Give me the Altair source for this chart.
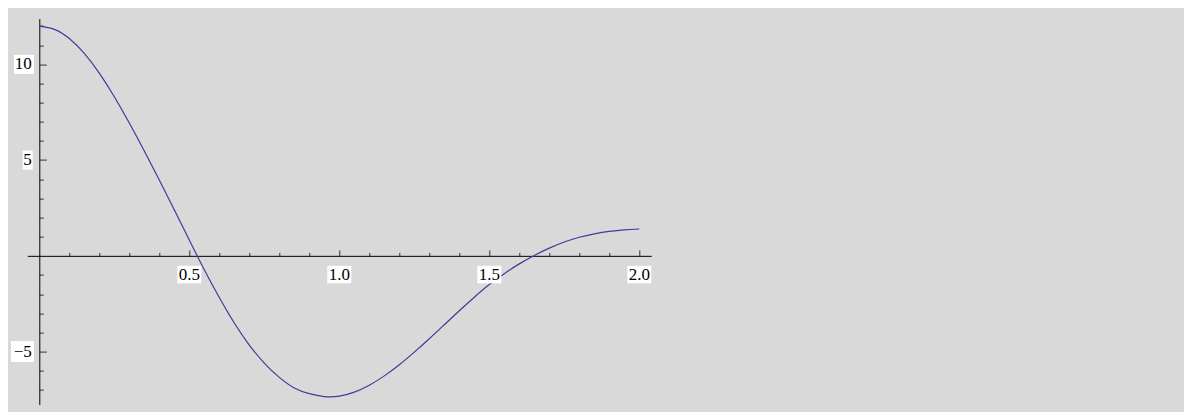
import altair as alt
import pandas as pd

# curve samples
xs = [0.00, 0.05, 0.10, 0.15, 0.20, 0.25, 0.30, 0.35, 0.40, 0.45,
      0.50, 0.55, 0.60, 0.65, 0.70, 0.75, 0.80, 0.85, 0.90, 0.95,
      1.00, 1.05, 1.10, 1.15, 1.20, 1.25, 1.30, 1.35, 1.40, 1.45,
      1.50, 1.55, 1.60, 1.65, 1.70, 1.75, 1.80, 1.85, 1.90, 1.95, 2.00]
ys = [12.00, 11.83, 11.35, 10.57, 9.54, 8.31, 6.94, 5.48, 3.96, 2.40,
      0.83, -0.73, -2.18, -3.51, -4.66, -5.60, -6.35, -6.90, -7.20, -7.35,
      -7.33, -7.12, -6.76, -6.27, -5.69, -5.03, -4.33, -3.60, -2.87, -2.16,
      -1.50, -0.93, -0.42, 0.02, 0.40, 0.72, 0.97, 1.15, 1.28, 1.36, 1.40]

x_tick_values = [0.5, 1.0, 1.5, 2.0]
x_tick_labels = ["0.5", "1.0", "1.5", "2.0"]
y_tick_values = [10, 5, -5]
y_tick_labels = ["10", "5", "\u22125"]

x_minor = [round(0.1 * i, 1) for i in range(1, 21)]
y_minor = [v for v in range(-7, 13) if v != 0]

XMIN, XMAX = -0.04, 2.04
YMIN, YMAX = -7.77, 12.39

W, H = 624, 386
PAD_L, PAD_T = 19.3, 10.6
TOTAL_W, TOTAL_H = 1176, 404

df = pd.DataFrame({"x": xs, "y": ys})
xl = pd.DataFrame({"x": x_tick_values, "label": x_tick_labels})
yl = pd.DataFrame({"y": y_tick_values, "label": y_tick_labels})

x_off = -(YMAX - 0) / (YMAX - YMIN) * H           # top-oriented axis moved down to y=0
y_off = (0 - XMIN) / (XMAX - XMIN) * W - W        # right-oriented axis moved left to x=0

xscale = alt.Scale(domain=[XMIN, XMAX], nice=False, zero=False)
yscale = alt.Scale(domain=[YMIN, YMAX], nice=False, zero=False)

FONT = "Liberation Serif"
FS = 17

x_axis = alt.Axis(
    orient="top", offset=x_off, values=x_minor, labels=False, title=None,
    grid=False, domainColor="#000000", domainWidth=1,
    tickColor="#333333", tickWidth=1,
    tickSize={"condition": {"test": "abs(datum.value*2 - round(datum.value*2)) < 0.001", "value": 6},
              "value": 3.5},
)
y_axis = alt.Axis(
    orient="right", offset=y_off, values=y_minor, labels=False, title=None,
    grid=False, domainColor="#000000", domainWidth=1,
    tickColor="#333333", tickWidth=1,
    tickSize={"condition": {"test": "abs(datum.value) % 5 === 0", "value": 7},
              "value": 4},
)

line = alt.Chart(df).mark_line(color="#3d3d99", strokeWidth=1.2, interpolate="natural").encode(
    x=alt.X("x:Q", scale=xscale, axis=x_axis),
    y=alt.Y("y:Q", scale=yscale, axis=y_axis),
)

xbox = alt.Chart(xl).mark_point(
    filled=True, fill="white", opacity=1, strokeWidth=0, size=4,
    shape="M-12,10L12,10L12,27.5L-12,27.5Z",
).encode(
    x=alt.X("x:Q", scale=xscale, axis=None),
    y=alt.Y("z:Q", scale=yscale, axis=None),
).transform_calculate(z="0")

xtext = alt.Chart(xl).mark_text(
    font=FONT, fontSize=FS, color="black", baseline="middle", align="center", dy=19,
).encode(
    x=alt.X("x:Q", scale=xscale, axis=None),
    y=alt.Y("z:Q", scale=yscale, axis=None),
    text="label:N",
).transform_calculate(z="0")

box_paths = [
    "M-25.3,-9.5L-5.3,-9.5L-5.3,9.5L-25.3,9.5Z",
    "M-16.6,-9.5L-6.6,-9.5L-6.6,9.5L-16.6,9.5Z",
    "M-28.3,-10.5L-5.3,-10.5L-5.3,10.5L-28.3,10.5Z",
]

ybox = alt.Chart(yl).mark_point(
    filled=True, fill="white", opacity=1, strokeWidth=0, size=4,
).encode(
    x=alt.X("z:Q", scale=xscale, axis=None),
    y=alt.Y("y:Q", scale=yscale, axis=None),
    shape=alt.Shape("label:N", scale=alt.Scale(domain=y_tick_labels, range=box_paths), legend=None),
).transform_calculate(z="0")

ytext = alt.Chart(yl).mark_text(
    font=FONT, fontSize=FS, color="black", baseline="middle", align="right", dx=-7.5,
).encode(
    x=alt.X("z:Q", scale=xscale, axis=None),
    y=alt.Y("y:Q", scale=yscale, axis=None),
    text="label:N",
).transform_calculate(z="0")

chart = alt.layer(line, xbox, xtext, ybox, ytext).resolve_axis(
    x="independent", y="independent"
).properties(
    width=W, height=H,
    autosize="none",
    padding={"left": PAD_L, "top": PAD_T,
             "right": TOTAL_W - PAD_L - W, "bottom": TOTAL_H - PAD_T - H},
    background="#d9d9d9",
).configure_view(stroke=None)

chart.save("out.html", embed_options={"renderer": "svg", "actions": False})
